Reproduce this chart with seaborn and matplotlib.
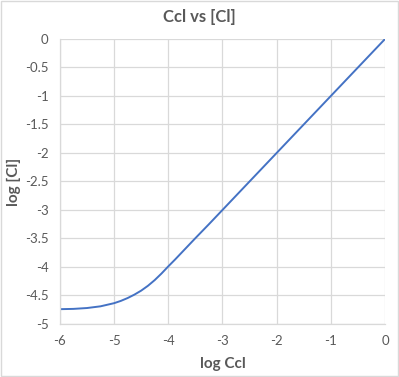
import pandas as pd
import matplotlib
matplotlib.use("Agg")
import matplotlib.pyplot as plt
import seaborn as sns
from matplotlib.patches import Rectangle

# values
log_ccl = [-6.0, -5.75, -5.5, -5.25, -5.0, -4.875, -4.75, -4.625, -4.5, -4.375,
           -4.25, -4.125, -4.0, -3.875, -3.75, -3.5, -3.25, -3.0, -2.5, -2.0,
           -1.5, -1.0, -0.5, 0.0]
log_cl = [-4.74, -4.735, -4.72, -4.69, -4.635, -4.595, -4.545, -4.485, -4.415, -4.33,
          -4.23, -4.115, -3.99, -3.87, -3.745, -3.495, -3.25, -3.0, -2.5, -2.0,
          -1.5, -1.0, -0.5, 0.0]
x_ticks = [-6, -5, -4, -3, -2, -1, 0]
y_ticks = [-5, -4.5, -4, -3.5, -3, -2.5, -2, -1.5, -1, -0.5, 0]

df = pd.DataFrame({"log Ccl": log_ccl, "log [Cl]": log_cl})

sns.set_style("whitegrid")
plt.rcParams["font.family"] = ["Lato", "DejaVu Sans"]

grey = "#595959"
fig = plt.figure(figsize=(3.99, 3.77), dpi=100)
ax = fig.add_axes([0.150, 0.1406, 0.815, 0.756])

sns.lineplot(data=df, x="log Ccl", y="log [Cl]", ax=ax, color="#4472C4", linewidth=1.4)

ax.set_xlim(-6, 0)
ax.set_ylim(-5, 0)
ax.set_xticks(x_ticks)
ax.set_yticks(y_ticks)
ax.set_xticklabels([f"{t:g}" for t in x_ticks])
ax.set_yticklabels([f"{t:g}" for t in y_ticks])
ax.tick_params(axis="both", colors=grey, labelsize=9.5, length=0, pad=8)
ax.grid(True, color="#d9d9d9", linewidth=0.9)
for side in ["top", "right"]:
    ax.spines[side].set_visible(False)
for side in ["left", "bottom"]:
    ax.spines[side].set_color("#d9d9d9")
    ax.spines[side].set_linewidth(0.9)

ax.set_xlabel("log Ccl", fontsize=11, fontweight="bold", color=grey)
ax.set_ylabel("log [Cl]", fontsize=11, fontweight="bold", color=grey)
ax.xaxis.set_label_coords(0.5, -0.116)
ax.yaxis.set_label_coords(-0.12, 0.5)
fig.text(0.5, 0.955, "Ccl vs [Cl]", ha="center", va="center",
         fontsize=12, fontweight="bold", color=grey)

# light border around the chart area
fig.patches.append(Rectangle((0.002, 0.002), 0.996, 0.996, transform=fig.transFigure,
                             fill=False, edgecolor="#d9d9d9", linewidth=1))

fig.savefig("out.png", dpi=100)
